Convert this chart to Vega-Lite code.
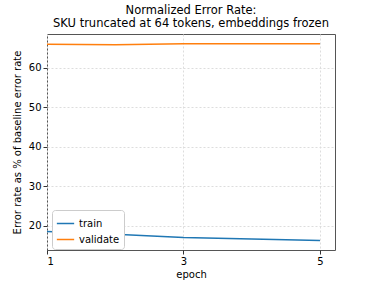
{
  "$schema": "https://vega.github.io/schema/vega-lite/v6.json",
  "width": 288,
  "height": 216,
  "autosize": "none",
  "padding": {"left": 47, "top": 34, "right": 39, "bottom": 31},
  "background": "white",
  "title": {
    "text": ["Normalized Error Rate:", "SKU truncated at 64 tokens, embeddings frozen"],
    "font": "DejaVu Sans",
    "fontSize": 11.5,
    "fontWeight": "normal",
    "color": "black",
    "anchor": "middle",
    "lineHeight": 13,
    "offset": 5
  },
  "config": {
    "view": {"stroke": "#555", "strokeWidth": 1},
    "axis": {
      "labelFont": "DejaVu Sans",
      "titleFont": "DejaVu Sans",
      "labelFontSize": 10,
      "titleFontSize": 10,
      "titleFontWeight": "normal",
      "labelColor": "black",
      "titleColor": "black",
      "domain": false,
      "tickColor": "#333",
      "tickSize": 4,
      "gridColor": "#ddd",
      "gridDash": [2, 2]
    },
    "legend": {
      "labelFont": "DejaVu Sans",
      "labelFontSize": 10,
      "labelColor": "black"
    }
  },
  "data": {
    "values": [
      {"epoch": 1, "value": 18.5, "series": "train"},
      {"epoch": 2, "value": 17.8, "series": "train"},
      {"epoch": 3, "value": 17.0, "series": "train"},
      {"epoch": 4, "value": 16.6, "series": "train"},
      {"epoch": 5, "value": 16.2, "series": "train"},
      {"epoch": 1, "value": 66.0, "series": "validate"},
      {"epoch": 2, "value": 65.9, "series": "validate"},
      {"epoch": 3, "value": 66.1, "series": "validate"},
      {"epoch": 4, "value": 66.1, "series": "validate"},
      {"epoch": 5, "value": 66.1, "series": "validate"}
    ]
  },
  "mark": {"type": "line", "strokeWidth": 1.5, "clip": true},
  "encoding": {
    "x": {
      "field": "epoch",
      "type": "quantitative",
      "scale": {"domain": [1, 5.22], "nice": false, "zero": false},
      "axis": {"values": [1, 3, 5], "title": "epoch", "format": "d", "titlePadding": 3}
    },
    "y": {
      "field": "value",
      "type": "quantitative",
      "scale": {"domain": [13.8, 68.6], "nice": false, "zero": false},
      "axis": {"values": [20, 30, 40, 50, 60], "title": "Error rate as % of baseline error rate", "titlePadding": 6}
    },
    "color": {
      "field": "series",
      "type": "nominal",
      "scale": {"domain": ["train", "validate"], "range": ["#1f77b4", "#ff7f0e"]},
      "legend": {
        "title": null,
        "orient": "none",
        "legendX": 5,
        "legendY": 176,
        "symbolType": "stroke",
        "symbolSize": 300,
        "symbolStrokeWidth": 1.5,
        "strokeColor": "#ccc",
        "fillColor": "white",
        "padding": 4,
        "cornerRadius": 3,
        "rowPadding": 1
      }
    }
  }
}
